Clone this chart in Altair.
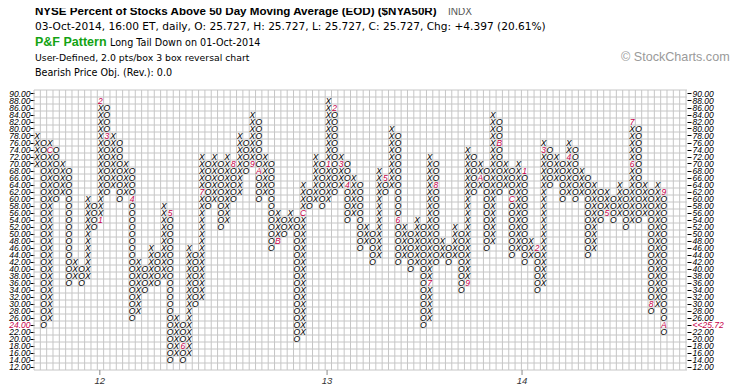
import altair as alt
import pandas as pd

# ---- Point & Figure columns (value of lowest and highest box, 2.0 pts/box) ----
col_type = ["X", "O"] * 50
col_low = [70, 24, 26, 60, 62, 36, 38, 36, 38, 52,
           54, 62, 64, 60, 62, 26, 28, 34, 36, 36,
           38, 14, 16, 14, 16, 30, 32, 58, 60, 52,
           54, 60, 62, 68, 70, 60, 62, 46, 48, 50,
           52, 20, 22, 58, 60, 58, 60, 62, 64, 54,
           56, 46, 48, 42, 44, 62, 64, 42, 44, 40,
           42, 24, 26, 42, 44, 42, 44, 34, 36, 62,
           64, 46, 48, 62, 64, 44, 46, 42, 44, 34,
           36, 64, 66, 60, 62, 60, 62, 44, 46, 54,
           56, 54, 56, 52, 54, 54, 56, 28, 30, 22]
col_high = [78, 76, 76, 74, 70, 68, 42, 40, 60, 58,
            88, 86, 78, 76, 70, 68, 42, 40, 46, 44,
            58, 56, 26, 24, 46, 44, 72, 70, 72, 70,
            72, 70, 78, 76, 84, 82, 72, 70, 56, 54,
            56, 54, 64, 62, 72, 70, 88, 86, 72, 70,
            66, 64, 52, 50, 68, 66, 80, 78, 52, 50,
            54, 52, 72, 70, 48, 46, 52, 50, 74, 72,
            70, 68, 84, 82, 70, 68, 70, 68, 48, 46,
            76, 74, 72, 70, 76, 74, 68, 66, 64, 62,
            62, 60, 64, 62, 82, 80, 64, 62, 64, 62]

# month markers (red) replacing a box
mark_col = [2, 10, 10, 11, 15, 21, 23, 26, 31, 34, 35, 38, 42, 46, 47, 48, 49, 55,
            57, 62, 63, 68, 70, 73, 75, 77, 79, 80, 84, 90, 94, 94, 97, 99, 99]
mark_val = [74, 54, 88, 78, 60, 56, 18, 62, 70, 70, 68, 48, 56, 70, 86, 70, 64, 66,
            54, 36, 64, 36, 66, 76, 60, 68, 46, 74, 72, 56, 70, 82, 30, 62, 24]
mark_txt = ["C", "1", "2", "3", "4", "5", "6", "7", "8", "9", "A", "B", "C", "1", "2", "3", "4", "5",
            "6", "7", "8", "9", "A", "B", "C", "1", "2", "3", "4", "5", "6", "7", "8", "9", "A"]

y_ticks = list(range(12, 92, 2))
x_tick_pos = [9.9, 45.8, 76.6]
x_tick_lab = ["12", "13", "14"]

FONT = "Liberation Sans"
WFONT = "DejaVu Sans"
RED = "#c8004b"
W, H = 653, 280
N_GRID_COLS = 104

markers = {(c, v): t for c, v, t in zip(mark_col, mark_val, mark_txt)}
black_rows, red_rows = [], []
for k, (t, lo, hi) in enumerate(zip(col_type, col_low, col_high)):
    for v in range(lo, hi + 1, 2):
        if (k, v) in markers:
            red_rows.append({"col": k, "v": v, "s": markers[(k, v)]})
        else:
            black_rows.append({"col": k, "v": v, "s": t})
df_black = pd.DataFrame(black_rows)
df_red = pd.DataFrame(red_rows)
df_xt = pd.DataFrame({"p": x_tick_pos, "lab": x_tick_lab})

xs = alt.Scale(domain=[-0.5, 102.66], nice=False, zero=False)
ys = alt.Scale(domain=[11, 91], nice=False, zero=False)

grid_x = pd.DataFrame({"gx": [k - 0.5 for k in range(N_GRID_COLS)]})
grid_y = pd.DataFrame({"gy": list(range(11, 92, 2))})

vgrid = alt.Chart(grid_x).mark_rule(color="#c6c6c6", strokeWidth=1).encode(
    x=alt.X("gx:Q", scale=xs, axis=None), y=alt.value(0), y2=alt.value(H))
hgrid = alt.Chart(grid_y).mark_rule(color="#c6c6c6", strokeWidth=1).encode(
    y=alt.Y("gy:Q", scale=ys, axis=None), x=alt.value(0), x2=alt.value(W))

label_color = {"condition": {"test": "datum.value == 24", "value": RED}, "value": "black"}

glyphs = alt.Chart(df_black).mark_text(
    font=FONT, fontStyle="italic", fontSize=8.5, color="black", baseline="middle", align="center"
).encode(
    x=alt.X("col:Q", scale=xs, axis=None),
    y=alt.Y("v:Q", scale=ys, axis=alt.Axis(
        orient="left", values=y_ticks, format=".2f", title=None, grid=False, domain=False,
        tickSize=4, tickColor="black", labelFont=FONT, labelFontStyle="italic",
        labelFontSize=8.5, labelPadding=0, labelOverlap=False, labelColor=label_color)),
    text="s:N")

reds = alt.Chart(df_red).mark_text(
    font=FONT, fontStyle="italic", fontSize=8.5, color=RED, baseline="middle", align="center"
).encode(
    x=alt.X("col:Q", scale=xs, axis=None),
    y=alt.Y("v:Q", scale=ys, axis=alt.Axis(
        orient="right", values=y_ticks, title=None, grid=False, domain=False,
        labelExpr="datum.value == 24 ? '<<25.72' : format(datum.value, '.2f')",
        tickSize=4, tickColor="black", labelFont=FONT, labelFontStyle="italic",
        labelFontSize=8.5, labelPadding=1, labelOverlap=False, labelColor=label_color)),
    text="s:N")

# bottom date axis (year ticks)
xticks = alt.Chart(df_xt).mark_rule(color="#888888", strokeWidth=1).encode(
    x=alt.X("p:Q", scale=xs, axis=None), y=alt.value(H), y2=alt.value(H + 5))
xlabels = alt.Chart(df_xt).mark_text(
    font=FONT, fontStyle="italic", fontSize=9.5, color="#333333", baseline="middle", align="center"
).encode(x=alt.X("p:Q", scale=xs, axis=None), y=alt.value(H + 11), text="lab:N")


def label(txt, x, y, size=9.5, weight="normal", color="black", font=FONT):
    return alt.Chart(pd.DataFrame({"t": [txt]})).mark_text(
        align="left", baseline="middle", font=font, fontSize=size, fontWeight=weight,
        color=color
    ).encode(x=alt.value(x), y=alt.value(y), text="t:N")


texts = [
    label("NYSE Percent of Stocks Above 50 Day Moving Average (EOD) ($NYA50R)", 1, -78, size=11.6, weight="bold"),
    label("INDX", 414, -78, size=10, color="#555555"),
    label("03-Oct-2014, 16:00 ET, daily, O: 25.727, H: 25.727, L: 25.727, C: 25.727, Chg: +4.397 (20.61%)",
          1, -63, size=10.6, font=WFONT),
    label("P&F Pattern", 1, -48, size=12.5, weight="bold", color="#13a313"),
    label("Long Tail Down on 01-Oct-2014", 76, -47, size=9.6, font=WFONT),
    label("User-Defined, 2.0 pts/box 3 box reversal chart", 1, -32, size=9.3, font=WFONT),
    label("Bearish Price Obj. (Rev.): 0.0", 1, -17, size=9.6, font=WFONT),
    label("\u00a9 StockCharts.com", 587, -33, size=12.6, color="#9a9a9a"),
]

chart = alt.layer(vgrid, hgrid, glyphs, reds, xticks, xlabels, *texts).resolve_axis(
    y="independent"
).properties(
    width=W, height=H, autosize="none",
    padding={"left": 26, "top": 82, "right": 44, "bottom": 18},
    background="white"
).configure_view(strokeWidth=0)

chart.save("out.html", embed_options={"renderer": "svg", "actions": False})
